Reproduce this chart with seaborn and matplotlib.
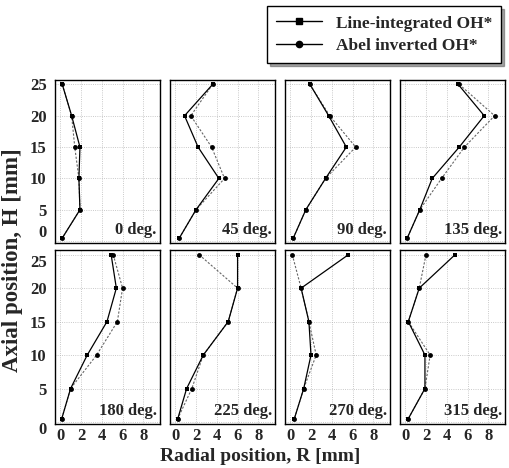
import numpy as np
import pandas as pd
import seaborn as sns
import matplotlib.pyplot as plt
from matplotlib.lines import Line2D

# axial positions (mm), same for every panel
H = [25, 20, 15, 10, 5, 0.5]

angles = [0, 45, 90, 135, 180, 225, 270, 315]

# line-integrated OH* radial position per angle (mm)
li_0 = [0.2, 1.1, 1.9, 1.8, 1.9, 0.2]
li_45 = [3.6, 0.9, 2.2, 4.2, 2.0, 0.4]
li_90 = [1.9, 3.7, 5.4, 3.4, 1.5, 0.3]
li_135 = [5.1, 7.6, 5.2, 2.6, 1.4, 0.2]
li_180 = [4.9, 5.4, 4.5, 2.6, 1.0, 0.15]
li_225 = [6.0, 6.0, 5.1, 2.7, 1.1, 0.25]
li_270 = [5.6, 1.05, 1.8, 2.0, 1.3, 0.4]
li_315 = [4.8, 1.35, 0.3, 1.9, 1.9, 0.3]

# Abel inverted OH*
ab_0 = [0.2, 1.1, 1.4, 1.8, 1.9, 0.2]
ab_45 = [3.6, 1.5, 3.5, 4.75, 2.0, 0.4]
ab_90 = [1.9, 3.8, 6.3, 3.4, 1.5, 0.3]
ab_135 = [5.2, 8.6, 5.7, 3.5, 1.4, 0.2]
ab_180 = [5.1, 6.0, 5.5, 3.5, 1.0, 0.15]
ab_225 = [2.3, 6.0, 5.1, 2.7, 1.6, 0.25]
ab_270 = [0.2, 1.05, 1.8, 2.5, 1.3, 0.4]
ab_315 = [2.0, 1.35, 0.3, 2.4, 1.9, 0.3]

li_all = [li_0, li_45, li_90, li_135, li_180, li_225, li_270, li_315]
ab_all = [ab_0, ab_45, ab_90, ab_135, ab_180, ab_225, ab_270, ab_315]

rows = []
for ang, li, ab in zip(angles, li_all, ab_all):
    for h, r in zip(H, li):
        rows.append({'angle': ang, 'series': 'Line-integrated OH*', 'R': r, 'H': h})
    for h, r in zip(H, ab):
        rows.append({'angle': ang, 'series': 'Abel inverted OH*', 'R': r, 'H': h})
df = pd.DataFrame(rows)

sns.set_style('white')
plt.rcParams['font.family'] = ['Liberation Serif', 'DejaVu Serif']
plt.rcParams['font.weight'] = 'bold'

fig = plt.figure(figsize=(5.1, 4.68), dpi=100)

W, Hpx = 510, 468
col_left = [55, 170, 285, 400]
col_w = 105
row_box = [(80, 243), (250, 424)]  # top, bottom in pixels

for i, ang in enumerate(angles):
    r, c = divmod(i, 4)
    top, bot = row_box[r]
    ax = fig.add_axes([col_left[c] / W, 1 - bot / Hpx, col_w / W, (bot - top) / Hpx])
    sub = df[df['angle'] == ang]
    sns.lineplot(data=sub[sub['series'] == 'Abel inverted OH*'], x='R', y='H',
                 sort=False, estimator=None, color='0.4', lw=0.8, ls=(0, (2, 1.5)),
                 marker='o', markersize=3.5, markeredgewidth=0, markerfacecolor='black', ax=ax)
    sns.lineplot(data=sub[sub['series'] == 'Line-integrated OH*'], x='R', y='H',
                 sort=False, estimator=None, color='black', lw=0.9,
                 marker='s', markersize=3.5, markeredgewidth=0, ax=ax)
    ax.set_xlim(-0.5, 9.6)
    ax.set_ylim(-0.3, 25.7)
    ax.set_xticks([0, 2, 4, 6, 8])
    ax.set_yticks([0, 5, 10, 15, 20, 25])
    ax.grid(True, ls=':', color='0.72', lw=0.6)
    ax.tick_params(axis='y', length=0, labelsize=12, pad=6)
    ax.tick_params(axis='x', length=0, labelsize=12, pad=3)
    for sp in ax.spines.values():
        sp.set_color('black')
        sp.set_linewidth(1.0)
    ax.set_xlabel('')
    ax.set_ylabel('')
    if r == 0:
        ax.set_xticklabels([])
    if c != 0:
        ax.set_yticklabels([])
    else:
        labs = ax.get_yticklabels()
        if r == 0:
            labs[0].set_va('bottom')   # "0" sits just above the row gap
        else:
            labs[-1].set_va('top')     # "25" just below the row gap
            labs[0].set_va('top')
    ax.text(0.97, 0.03, f'{ang} deg.', transform=ax.transAxes, ha='right', va='bottom',
            fontsize=12, fontweight='bold')

fig.text(0.51, 0.025, 'Radial position, R [mm]', ha='center', va='center',
         fontsize=14, fontweight='bold')
fig.text(0.025, 0.445, 'Axial position, H [mm]', ha='center', va='center',
         rotation=90, fontsize=16.5, fontweight='bold')

handles = [
    Line2D([0], [0], color='black', lw=1, marker='s', markersize=5, label='Line-integrated OH*'),
    Line2D([0], [0], color='black', lw=1, marker='o', markersize=4.5, label='Abel inverted OH*'),
]
leg = fig.legend(handles=handles, loc='upper right', bbox_to_anchor=(0.99, 0.995),
                 frameon=True, fancybox=False, shadow=True, edgecolor='black',
                 prop={'size': 12.5, 'weight': 'bold'}, handlelength=2.6,
                 borderpad=0.55, labelspacing=0.35, borderaxespad=0.2)
leg.get_frame().set_linewidth(1.0)

fig.savefig('out.png', dpi=100)
